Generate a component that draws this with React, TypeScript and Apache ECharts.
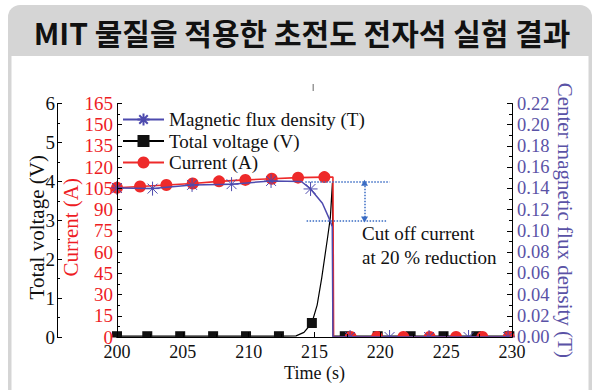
import React, { useEffect, useRef } from 'react';
import * as echarts from 'echarts';

const TITLE = 'MIT 물질을 적용한 초전도 전자석 실험 결과';
const ANNOTATION = 'Cut off current\nat 20 % reduction';

const seriesNames = ['Magnetic flux density (T)', 'Total voltage (V)', 'Current (A)'];
const axisNames = ['Total voltage (V)', 'Current (A)', 'Center magnetic flux density (T)', 'Time (s)'];

// x axis (s)
const timeRange = [200, 230, 5];
const voltageRange = [0, 6, 1];
const currentRange = [0, 165, 15];
const fluxRange = [0, 0.22, 0.02];

// Current (A) – 1 = drawn with a marker
const currentTime = [200, 201.75, 203.75, 205.75, 207.75, 209.75, 211.75, 213.75, 215.75, 216.4, 216.45, 217.75, 219.75, 221.75, 223.75, 225.75, 227.75, 229.75];
const currentValue = [105.5, 106.3, 107.4, 108.5, 110, 111, 111.8, 112.6, 113, 113, 0, 0, 0, 0, 0, 0, 0, 0];
const currentMarker = [1, 1, 1, 1, 1, 1, 1, 1, 1, 0, 0, 1, 1, 1, 1, 1, 1, 1];

// Magnetic flux density (T)
const fluxTime = [200, 202.7, 205.7, 208.7, 211.7, 214.0, 214.7, 215.6, 216.1, 216.35, 216.4, 217.7, 220.7, 223.7, 226.7, 229.7];
const fluxValue = [0.1404, 0.1398, 0.1433, 0.144, 0.147, 0.1465, 0.1395, 0.126, 0.112, 0.104, 0, 0, 0, 0, 0, 0];
const fluxMarker = [1, 1, 1, 1, 1, 0, 1, 0, 0, 0, 0, 1, 1, 1, 1, 1];

// Total voltage (V)
const voltageTime = [200, 202.3, 204.8, 207.3, 209.8, 212.3, 213.6, 214.2, 214.8, 215.2, 215.55, 216.0, 216.2, 216.36, 216.42, 217.3, 219.8, 222.3, 224.8, 227.3, 229.8];
const voltageValue = [0.02, 0.02, 0.02, 0.02, 0.02, 0.02, 0.03, 0.12, 0.36, 0.82, 1.52, 2.57, 3.06, 3.96, 0.02, 0.02, 0.02, 0.02, 0.02, 0.02, 0.02];
const voltageMarker = [1, 1, 1, 1, 1, 1, 0, 0, 1, 0, 0, 0, 0, 0, 0, 1, 1, 1, 1, 1, 1];

// annotation (time s, current A)
const cutUpper = [214.3, 220.7, 109.5];
const cutLower = [214.4, 220.5, 82];
const cutArrow = [218.8, 109, 83];

const RED = '#ee2a2a';
const RED_TEXT = '#ee1c24';
const BLUE = '#4d4aae';
const BLUE_TEXT = '#5a52a6';
const DOT = '#3a6cc4';
const SERIF = '"Liberation Serif", "Times New Roman", serif';
const STAR = 'path://M0,5L10,5M5,0L5,10M1.46,1.46L8.54,8.54M1.46,8.54L8.54,1.46';

function build(t: number[], v: number[], m: number[]) {
  return t.map((x, i) => (m[i] ? { value: [x, v[i]] } : { value: [x, v[i]], symbol: 'none' }));
}

const tickStyle = { show: true, inside: true, length: 5, lineStyle: { color: '#000', width: 1 } };
const minorStyle = { show: true, splitNumber: 2, length: 3, lineStyle: { color: '#000', width: 1 } };

export default function App() {
  const ref = useRef<HTMLDivElement>(null);
  useEffect(() => {
    if (!ref.current) return;
    const chart = echarts.init(ref.current, null, { renderer: 'svg' });
    const option: any = {
      animation: false,
      backgroundColor: '#ffffff',
      grid: { left: 117, right: 84, top: 103.5, bottom: 53 },
      legend: {
        orient: 'vertical',
        left: 122,
        top: 110,
        padding: 0,
        itemWidth: 41,
        itemHeight: 15,
        itemGap: 2.5,
        data: seriesNames,
        textStyle: { fontFamily: SERIF, fontSize: 19, color: '#111' },
      },
      xAxis: [
        {
          type: 'value',
          min: timeRange[0],
          max: timeRange[1],
          interval: timeRange[2],
          name: axisNames[3],
          nameLocation: 'middle',
          nameGap: 27,
          nameMoveOverlap: false,
          nameTextStyle: { fontFamily: SERIF, fontSize: 18, color: '#111' },
          axisLine: { show: true, lineStyle: { color: '#000', width: 1 } },
          axisTick: tickStyle,
          minorTick: minorStyle,
          axisLabel: { fontFamily: SERIF, fontSize: 18, color: '#111', margin: 6 },
          splitLine: { show: false },
          z: 10,
        },
        {
          type: 'value',
          position: 'top',
          min: timeRange[0],
          max: timeRange[1],
          interval: timeRange[2],
          axisLine: { show: true, lineStyle: { color: '#000', width: 1 } },
          axisTick: { show: false },
          axisLabel: { show: false },
          splitLine: { show: false },
          z: 10,
        },
      ],
      yAxis: [
        {
          type: 'value',
          position: 'left',
          offset: 60,
          min: voltageRange[0],
          max: voltageRange[1],
          interval: voltageRange[2],
          name: axisNames[0],
          nameLocation: 'middle',
          nameGap: 10,
          nameRotate: 90,
          nameMoveOverlap: false,
          nameTextStyle: { fontFamily: SERIF, fontSize: 21, color: '#111', padding: [0, 14, 0, 0] },
          axisLine: { show: true, lineStyle: { color: '#000', width: 1 } },
          axisTick: tickStyle,
          minorTick: minorStyle,
          axisLabel: { fontFamily: SERIF, fontSize: 19, color: '#111', margin: 2 },
          splitLine: { show: false },
          z: 10,
        },
        {
          type: 'value',
          position: 'left',
          min: currentRange[0],
          max: currentRange[1],
          interval: currentRange[2],
          name: axisNames[1],
          nameLocation: 'middle',
          nameGap: 35.5,
          nameRotate: 90,
          nameMoveOverlap: false,
          nameTextStyle: { fontFamily: SERIF, fontSize: 21, color: RED_TEXT, padding: [0, 14, 0, 0] },
          axisLine: { show: true, lineStyle: { color: '#000', width: 1 } },
          axisTick: tickStyle,
          minorTick: minorStyle,
          axisLabel: { fontFamily: SERIF, fontSize: 19, color: RED_TEXT, margin: 4 },
          splitLine: { show: false },
          z: 10,
        },
        {
          type: 'value',
          position: 'right',
          min: fluxRange[0],
          max: fluxRange[1],
          interval: fluxRange[2],
          name: axisNames[2],
          nameLocation: 'middle',
          nameGap: 42.5,
          nameRotate: -90,
          nameMoveOverlap: false,
          nameTextStyle: { fontFamily: SERIF, fontSize: 21, color: BLUE_TEXT },
          axisLine: { show: true, lineStyle: { color: '#000', width: 1 } },
          axisTick: tickStyle,
          minorTick: minorStyle,
          axisLabel: {
            fontFamily: SERIF,
            fontSize: 18.5,
            color: BLUE_TEXT,
            margin: 5,
            formatter: (v: number) => v.toFixed(2),
          },
          splitLine: { show: false },
          z: 10,
        },
      ],
      series: [
        {
          name: seriesNames[1],
          type: 'line',
          xAxisIndex: 0,
          yAxisIndex: 0,
          data: build(voltageTime, voltageValue, voltageMarker),
          symbol: 'rect',
          symbolSize: 10,
          showAllSymbol: true,
          lineStyle: { color: '#000', width: 1.2 },
          itemStyle: { color: '#111' },
          z: 2,
        },
        {
          name: seriesNames[2],
          type: 'line',
          xAxisIndex: 0,
          yAxisIndex: 1,
          data: build(currentTime, currentValue, currentMarker),
          symbol: 'circle',
          symbolSize: 12,
          showAllSymbol: true,
          lineStyle: { color: RED, width: 1.6 },
          itemStyle: { color: RED },
          z: 3,
          markLine: {
            silent: true,
            symbol: 'none',
            label: { show: false },
            lineStyle: { color: DOT, type: 'dotted', width: 1.5 },
            data: [
              [{ coord: [cutUpper[0], cutUpper[2]] }, { coord: [cutUpper[1], cutUpper[2]] }],
              [{ coord: [cutLower[0], cutLower[2]] }, { coord: [cutLower[1], cutLower[2]] }],
              [
                { coord: [cutArrow[0], cutArrow[1]], symbol: 'triangle', symbolSize: [7, 6], symbolRotate: 0 },
                { coord: [cutArrow[0], cutArrow[2]], symbol: 'triangle', symbolSize: [7, 6], symbolRotate: 180 },
              ],
            ],
          },
        },
        {
          name: seriesNames[0],
          type: 'line',
          xAxisIndex: 0,
          yAxisIndex: 2,
          data: build(fluxTime, fluxValue, fluxMarker),
          symbol: STAR,
          symbolSize: 14,
          showAllSymbol: true,
          lineStyle: { color: BLUE, width: 1.5 },
          itemStyle: { color: BLUE, borderColor: BLUE, borderWidth: 1 },
          z: 4,
        },
      ],
      graphic: [
        { type: 'rect', z: -10, shape: { x: 8, y: 5, width: 584, height: 420, r: [12, 12, 0, 0] }, style: { fill: '#d5d5d5' } },
        { type: 'rect', z: -9, shape: { x: 11.5, y: 56, width: 577, height: 360 }, style: { fill: '#ffffff' } },
        {
          type: 'text',
          z: 20,
          x: 302,
          y: 32,
          style: {
            text: TITLE,
            fontFamily: '"Noto Sans CJK KR", sans-serif',
            fontWeight: 'bold',
            fontSize: 30,
            fill: '#111111',
            align: 'center',
            verticalAlign: 'middle',
            textAlign: 'center',
            textVerticalAlign: 'middle',
          },
        },
        { type: 'rect', z: 5, shape: { x: 100, y: 337.6, width: 430, height: 8 }, style: { fill: '#ffffff' } },
        { type: 'rect', z: 5, shape: { x: 312.5, y: 84, width: 1.5, height: 7 }, style: { fill: '#999999' } },
        {
          type: 'text',
          z: 20,
          x: 362,
          y: 245,
          style: {
            text: ANNOTATION,
            fontFamily: SERIF,
            fontSize: 19,
            lineHeight: 24,
            fill: '#111111',
            verticalAlign: 'middle',
            textVerticalAlign: 'middle',
          },
        },
      ],
    };
    chart.setOption(option);
    return () => chart.dispose();
  }, []);
  return <div ref={ref} style={{ position: 'fixed', left: 0, top: 0, width: 596, height: 390 }} />;
}
